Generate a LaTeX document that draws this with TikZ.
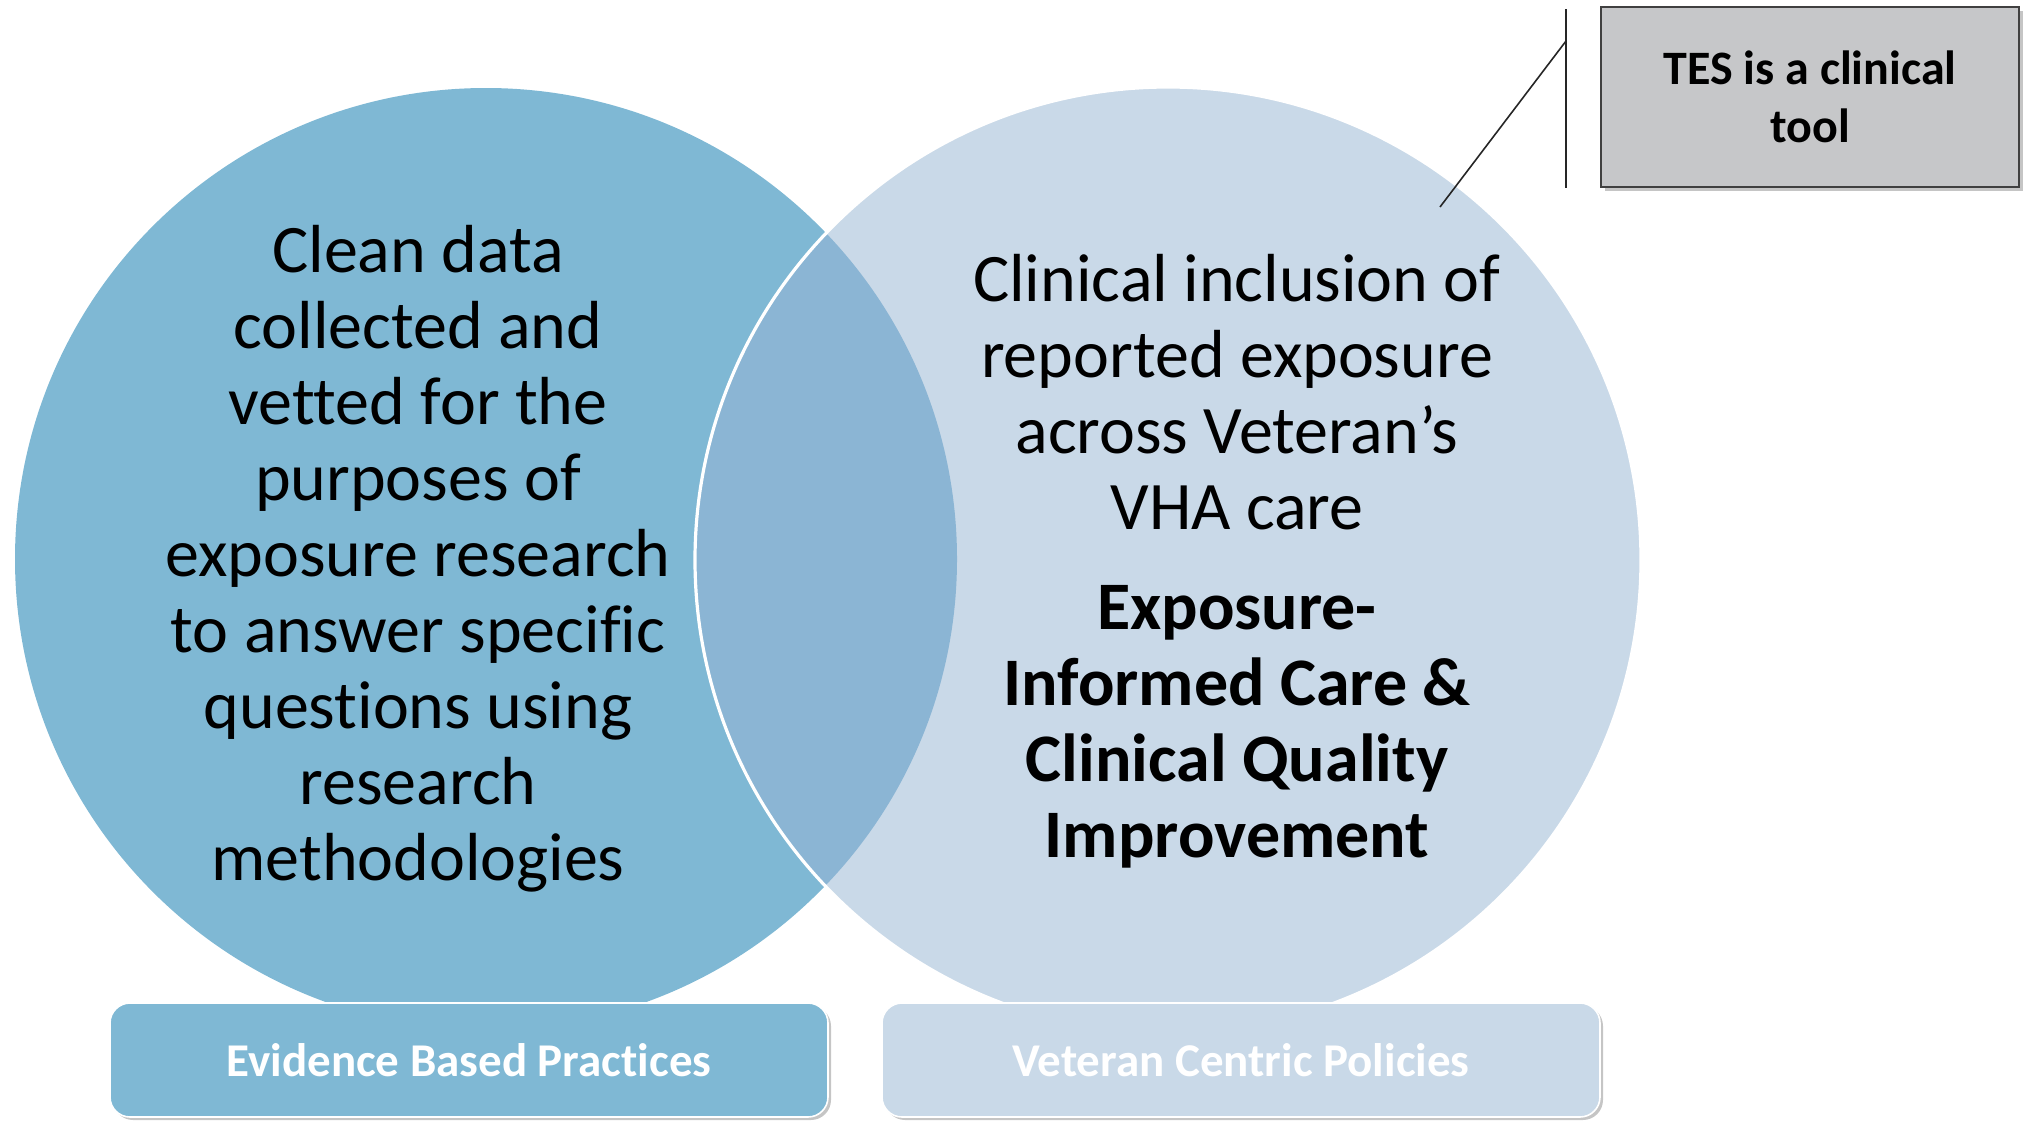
\documentclass[tikz,border=0pt]{standalone}
\usepackage{fontspec}
\setmainfont{Carlito}[RawFeature={-liga}]
\usetikzlibrary{shadows}
\definecolor{leftblue}{RGB}{127,184,212}
\definecolor{rightblue}{RGB}{201,217,232}
\definecolor{overlapblue}{RGB}{139,181,212}
\definecolor{calloutgray}{RGB}{198,199,201}
\tikzset{
  vennleft/.style={circle, fill=leftblue, minimum size=471pt, inner sep=0},
  vennright/.style={circle, fill=rightblue, minimum size=473pt, inner sep=0},
  bodytext/.style={align=center, font=\fontsize{34}{38}\selectfont, text=black},
  boldtext/.style={align=center, font=\fontsize{34}{38}\selectfont\bfseries, text=black},
  labelbox/.style={rounded corners=10pt, draw=white, line width=0.8pt, minimum width=359pt, minimum height=57pt,
     font=\fontsize{23.5}{28}\selectfont\bfseries, text=white,
     drop shadow={shadow xshift=1.5pt, shadow yshift=-1.5pt, fill=black!45}},
  calloutbox/.style={draw=black!75, line width=0.8pt, fill=calloutgray, minimum width=209pt, minimum height=90pt,
     align=center, font=\fontsize{24}{29}\selectfont\bfseries, text=black,
     drop shadow={shadow xshift=2pt, shadow yshift=-2pt, fill=black!45}},
  leader/.style={draw=black!85, line width=0.8pt}
}
\begin{document}
\begin{tikzpicture}[x=0.5pt, y=-0.5pt]
\useasboundingbox (0,0) rectangle (2029,1120);
% circles
\node[vennleft] (leftc) at (486,559) {};
\node[vennright] (rightc) at (1168,560) {};
\begin{scope}
  \clip (486,559) circle (471);
  \fill[overlapblue] (1168,560) circle (473);
\end{scope}
\draw[white, line width=1.6pt] (1168,560) circle (473);
% texts
\node[bodytext] (lefttext) at (418,559) {Clean data\\collected and\\vetted for the\\purposes of\\exposure research\\to answer specific\\questions using\\research\\methodologies};
\node[bodytext] (righttext) at (1237,392) {Clinical inclusion of\\reported exposure\\across Veteran’s\\VHA care};
\node[boldtext] (rightbold) at (1237,727) {Exposure-\\Informed Care \&\\Clinical Quality\\Improvement};
% bottom boxes
\node[labelbox, fill=leftblue] (ebp) at (469,1060) {Evidence Based Practices};
\node[labelbox, fill=rightblue] (vcp) at (1241,1060) {Veteran Centric Policies};
% callout
\node[calloutbox] (tes) at (1810,97) {TES is a clinical\\tool};
\coordinate (ltop) at (1566,9);
\coordinate (lbot) at (1566,188);
\coordinate (lbend) at (1566,41);
\coordinate (ltip) at (1440,207);
\draw[leader] (ltop) -- (lbot);
\draw[leader] (lbend) -- (ltip);
\end{tikzpicture}
\end{document}
